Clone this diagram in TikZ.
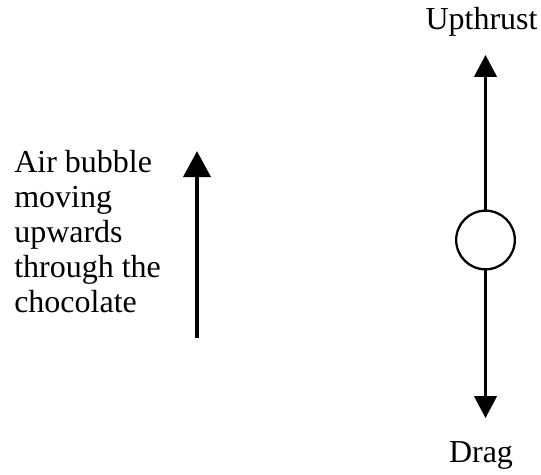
\documentclass[tikz,border=0pt]{standalone}
\usepackage{fontspec}
\setmainfont{Liberation Serif}
\usetikzlibrary{arrows.meta}
\begin{document}
\begin{tikzpicture}[x=0.75pt,y=-0.75pt, font=\fontsize{24}{26}\selectfont,
  force/.style={line width=1.7pt,-{Triangle[length=16.5pt,width=17pt]}},
  rise/.style={line width=3.6pt,-{Triangle[length=19.5pt,width=20pt]}},
  lbl/.style={inner sep=0pt}]
\useasboundingbox (0,0) rectangle (541,474);

\node[draw, circle, line width=1.7pt, minimum size=44pt, inner sep=0pt] (bubble) at (485.5,240) {};
\coordinate (uptip) at (485.5,55);
\coordinate (downtip) at (485.5,418);
\draw[force] (bubble.north)--(uptip);
\draw[force] (bubble.south)--(downtip);

\node[lbl, anchor=base] (upthrust) at (481.5,30) {Upthrust};
\node[lbl, anchor=base] (drag) at (481,462) {Drag};

\coordinate (risebot) at (197,338);
\coordinate (risetop) at (197,151);
\draw[rise] (risebot)--(risetop);

\foreach \y/\ytext in {172/Air bubble,207/moving,242/upwards,277/through the,312/chocolate}
\node[lbl, anchor=base west] (line\y) at (14,\y) {\ytext};

\end{tikzpicture}
\end{document}
